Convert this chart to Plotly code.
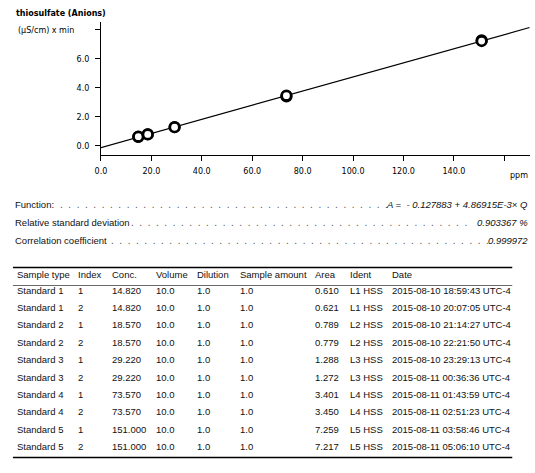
###########################################################################
### libraries

import plotly.graph_objects as go


###########################################################################
### data

sample_type = ['Standard 1', 'Standard 1', 'Standard 2', 'Standard 2', 'Standard 3',
               'Standard 3', 'Standard 4', 'Standard 4', 'Standard 5', 'Standard 5']
sample_index = ['1', '2', '1', '2', '1', '2', '1', '2', '1', '2']
conc = [14.820, 14.820, 18.570, 18.570, 29.220, 29.220, 73.570, 73.570, 151.000, 151.000]
volume = [10.0, 10.0, 10.0, 10.0, 10.0, 10.0, 10.0, 10.0, 10.0, 10.0]
dilution = [1.0, 1.0, 1.0, 1.0, 1.0, 1.0, 1.0, 1.0, 1.0, 1.0]
sample_amount = [1.0, 1.0, 1.0, 1.0, 1.0, 1.0, 1.0, 1.0, 1.0, 1.0]
area = [0.610, 0.621, 0.789, 0.779, 1.288, 1.272, 3.401, 3.450, 7.259, 7.217]
ident = ['L1 HSS', 'L1 HSS', 'L2 HSS', 'L2 HSS', 'L3 HSS',
         'L3 HSS', 'L4 HSS', 'L4 HSS', 'L5 HSS', 'L5 HSS']
date = ['2015-08-10 18:59:43 UTC-4', '2015-08-10 20:07:05 UTC-4',
        '2015-08-10 21:14:27 UTC-4', '2015-08-10 22:21:50 UTC-4',
        '2015-08-10 23:29:13 UTC-4', '2015-08-11 00:36:36 UTC-4',
        '2015-08-11 01:43:59 UTC-4', '2015-08-11 02:51:23 UTC-4',
        '2015-08-11 03:58:46 UTC-4', '2015-08-11 05:06:10 UTC-4']

# calibration line
fit_x = [0.0, 170.0]
fit_y = [-0.128, 8.149]

x_ticks = [0, 20, 40, 60, 80, 100, 120, 140, 160]
x_tick_labels = ['0.0', '20.0', '40.0', '60.0', '80.0', '100.0', '120.0', '140.0', '']
y_ticks = [0, 2, 4, 6, 8]
y_tick_labels = ['0.0', '2.0', '4.0', '6.0', '']

stat_labels = ['Function:', 'Relative standard deviation', 'Correlation coefficient']
stat_values = ['A =\u00a0 - 0.127883 + 4.86915E-3\u00d7 Q', '0.903367 %', '0.999972']

table_header = ['Sample type', 'Index', 'Conc.', 'Volume', 'Dilution',
                'Sample amount', 'Area', 'Ident', 'Date']


###########################################################################
### layout helpers (pixels -> paper)

W, H = 535, 473
def px(x): return x / W
def py(y): return 1 - y / H

CHART_FONT = 'DejaVu Sans'
TEXT_FONT = 'Liberation Sans'
INK = '#111111'


###########################################################################
### plot

fig = go.Figure()

fig.add_trace(go.Scatter(x=fit_x, y=fit_y, mode='lines',
                         line=dict(color='black', width=1.2),
                         hoverinfo='skip', showlegend=False))
fig.add_trace(go.Scatter(x=conc, y=area, mode='markers',
                         marker=dict(size=9.5, color='white', line=dict(color='black', width=2.7)),
                         showlegend=False))

fig.update_xaxes(domain=[px(96), px(530)], range=[0, 170.2],
                 tickvals=x_ticks, ticktext=x_tick_labels,
                 ticks='outside', ticklen=5, tickcolor='black', tickwidth=1,
                 showline=True, linecolor='black', linewidth=1,
                 showgrid=False, zeroline=False, ticklabelstandoff=3,
                 tickfont=dict(family=CHART_FONT, size=8, color='black'))
fig.update_yaxes(domain=[py(155), py(22)], range=[-0.64, 8.53],
                 tickvals=y_ticks, ticktext=y_tick_labels,
                 ticks='outside', ticklen=5, tickcolor='black', tickwidth=1,
                 showline=True, linecolor='black', linewidth=1,
                 showgrid=False, zeroline=False, ticklabelstandoff=4,
                 tickfont=dict(family=CHART_FONT, size=8, color='black'))

ann = []
ann.append(dict(text='<b>thiosulfate (Anions)</b>', x=px(8), y=py(13.5), xanchor='left',
                yanchor='middle', font=dict(family=CHART_FONT, size=8, color='black')))
ann.append(dict(text='(\u00b5S/cm) x min', x=px(10), y=py(30), xanchor='left',
                yanchor='middle', font=dict(family=CHART_FONT, size=8, color='black')))
ann.append(dict(text='ppm', x=px(530), y=py(175), xanchor='right',
                yanchor='middle', font=dict(family=CHART_FONT, size=8, color='black')))


### function / statistics block
stat_y = [204.5, 222.5, 240.5]
dot_start = [54, 126, 106]
dot_count = [40, 41, 46]
for i in range(3):
    ann.append(dict(text=stat_labels[i], x=px(7), y=py(stat_y[i]), xanchor='left',
                    yanchor='middle', font=dict(family=TEXT_FONT, size=9.5, color=INK)))
    dots = '.\u00a0\u00a0' * (dot_count[i] - 1) + '.'
    ann.append(dict(text=dots, x=px(dot_start[i] - 1.5), y=py(stat_y[i]), xanchor='left',
                    yanchor='middle', font=dict(family=TEXT_FONT, size=10, color='#555555')))
    ann.append(dict(text='<i>' + stat_values[i] + '</i>', x=px(530), y=py(stat_y[i]),
                    xanchor='right', yanchor='middle',
                    font=dict(family=TEXT_FONT, size=9.5, color=INK)))


### table
col_x = [9, 71, 105, 150, 191, 235, 310, 346, 388]
header_y = 274.5
row_y0, row_dy = 290, 17.4
columns = [sample_type, sample_index,
           ['%.3f' % v for v in conc], ['%.1f' % v for v in volume],
           ['%.1f' % v for v in dilution], ['%.1f' % v for v in sample_amount],
           ['%.3f' % v for v in area], ident, date]

for j in range(len(table_header)):
    ann.append(dict(text=table_header[j], x=px(col_x[j]), y=py(header_y), xanchor='left',
                    yanchor='middle', font=dict(family=TEXT_FONT, size=9.5, color=INK)))
    for i in range(len(columns[j])):
        ann.append(dict(text=columns[j][i], x=px(col_x[j]), y=py(row_y0 + i * row_dy),
                        xanchor='left', yanchor='middle',
                        font=dict(family=TEXT_FONT, size=9.5, color=INK)))

for a in ann:
    a.update(xref='paper', yref='paper', showarrow=False, align='left')

shapes = [
    dict(type='line', xref='paper', yref='paper', x0=px(7), x1=px(512), y0=py(267.5), y1=py(267.5),
         line=dict(color='black', width=1.5)),
    dict(type='line', xref='paper', yref='paper', x0=px(7), x1=px(512), y0=py(285.5), y1=py(285.5),
         line=dict(color='#444444', width=0.8)),
    dict(type='line', xref='paper', yref='paper', x0=px(7), x1=px(512), y0=py(457.5), y1=py(457.5),
         line=dict(color='black', width=1.5)),
]

fig.update_layout(width=W, height=H, margin=dict(l=0, r=0, t=0, b=0),
                  paper_bgcolor='white', plot_bgcolor='white',
                  annotations=ann, shapes=shapes, showlegend=False)

# page body margin would push the fixed-size figure off the window
fig.write_html('out.html', config={'displayModeBar': False},
               post_script="document.body.style.margin='0';document.body.style.overflow='hidden';")
